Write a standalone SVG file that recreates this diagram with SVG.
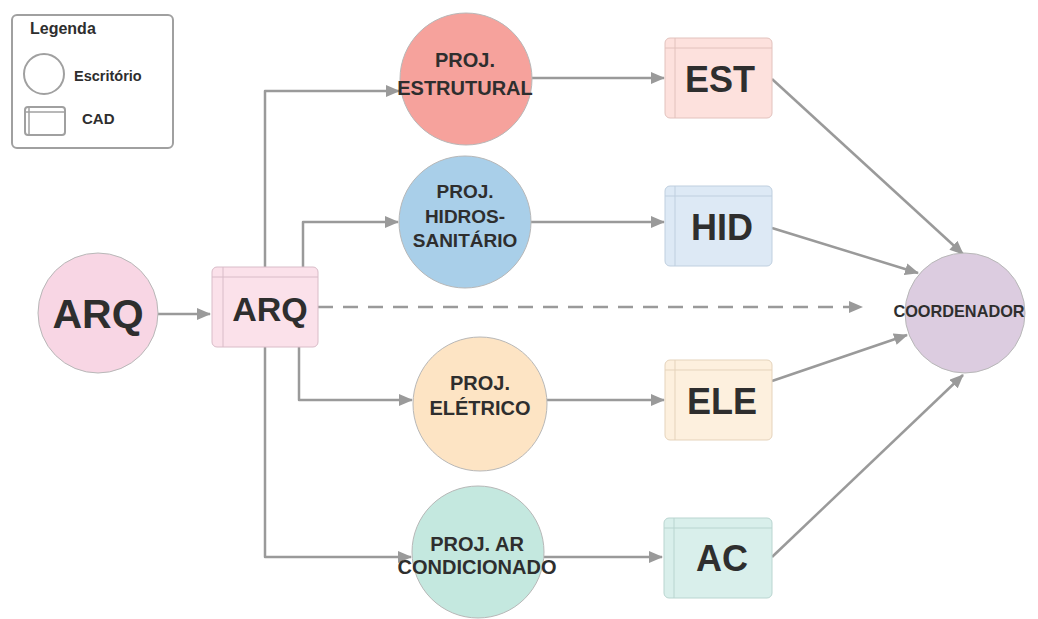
<svg xmlns="http://www.w3.org/2000/svg" width="1038" height="619" viewBox="0 0 1038 619">
<defs>
<marker id="ah" markerWidth="14" markerHeight="12" refX="13" refY="6" orient="auto" markerUnits="userSpaceOnUse">
<path d="M0,0 L14,6 L0,12 z" fill="#9a9a9a"/>
</marker>
<style>
.conn{fill:none;stroke:#9a9a9a;stroke-width:2.5;stroke-linejoin:round}
.t{font-family:"Liberation Sans",Arial,sans-serif;font-weight:bold;fill:#2e2e2e;text-anchor:middle}
.circ{stroke:#b8b8b8;stroke-width:1}
.box{stroke-width:1}
.inner{fill:none;stroke-width:1}
</style>
</defs>
<rect width="1038" height="619" fill="#ffffff"/>

<g id="legend">
<rect x="12" y="15" width="161" height="133" rx="5" fill="#fff" stroke="#a0a0a0" stroke-width="2"/>
<text class="t" x="30" y="34" font-size="16" style="text-anchor:start">Legenda</text>
<circle cx="44" cy="74" r="20" fill="#fff" stroke="#a0a0a0" stroke-width="2"/>
<text class="t" x="74" y="81" font-size="14.5" style="text-anchor:start">Escritório</text>
<rect x="25" y="107" width="40" height="28" rx="3" fill="#fff" stroke="#a0a0a0" stroke-width="2"/>
<line x1="25" y1="112" x2="65" y2="112" stroke="#a0a0a0" stroke-width="1.5"/>
<line x1="29" y1="107" x2="29" y2="135" stroke="#a0a0a0" stroke-width="1.5"/>
<text class="t" x="82" y="124" font-size="15" style="text-anchor:start">CAD</text>
</g>

<g id="connectors">
<path class="conn" d="M158,314 H210" marker-end="url(#ah)"/>
<path class="conn" d="M318,307 H862" stroke-dasharray="15,10" marker-end="url(#ah)"/>
<path class="conn" d="M265,267 V91 H399" marker-end="url(#ah)"/>
<path class="conn" d="M303,267 V222 H398" marker-end="url(#ah)"/>
<path class="conn" d="M299,347 V400 H412" marker-end="url(#ah)"/>
<path class="conn" d="M265,347 V557 H411" marker-end="url(#ah)"/>
<path class="conn" d="M532,78 H664" marker-end="url(#ah)"/>
<path class="conn" d="M531,222 H664" marker-end="url(#ah)"/>
<path class="conn" d="M547,400 H664" marker-end="url(#ah)"/>
<path class="conn" d="M544,557 H662" marker-end="url(#ah)"/>
<path class="conn" d="M772,79 L963,254" marker-end="url(#ah)"/>
<path class="conn" d="M772,228 L918,273" marker-end="url(#ah)"/>
<path class="conn" d="M772,381 L907,335" marker-end="url(#ah)"/>
<path class="conn" d="M772,557 L963,375" marker-end="url(#ah)"/>
</g>

<g id="arq-office">
<circle class="circ" cx="98" cy="313" r="60" fill="#f8d6e4"/>
<text class="t" x="98" y="328" font-size="41">ARQ</text>
</g>

<g id="arq-cad">
<rect class="box" x="212" y="267" width="106" height="80" rx="5" fill="#fbe1ea" stroke="#d9bcc8"/>
<line class="inner" x1="212" y1="277" x2="318" y2="277" stroke="#d9bcc8"/>
<line class="inner" x1="223" y1="267" x2="223" y2="347" stroke="#d9bcc8"/>
<text class="t" x="270" y="321" font-size="34">ARQ</text>
</g>

<g id="proj-estrutural">
<circle class="circ" cx="466" cy="79" r="66" fill="#f6a29c"/>
<text class="t" x="465" y="67" font-size="20">PROJ.</text>
<text class="t" x="465" y="95" font-size="20">ESTRUTURAL</text>
</g>

<g id="est-cad">
<rect class="box" x="665" y="38" width="107" height="80" rx="5" fill="#fde1dd" stroke="#e2c2bd"/>
<line class="inner" x1="665" y1="48" x2="772" y2="48" stroke="#e2c2bd"/>
<line class="inner" x1="675" y1="38" x2="675" y2="118" stroke="#e2c2bd"/>
<text class="t" x="720" y="92" font-size="36">EST</text>
</g>

<g id="proj-hidros">
<circle class="circ" cx="465" cy="222" r="66" fill="#a9cfe9"/>
<text class="t" x="465" y="198" font-size="19">PROJ.</text>
<text class="t" x="465" y="223" font-size="19">HIDROS-</text>
<text class="t" x="465" y="247" font-size="19">SANITÁRIO</text>
</g>

<g id="hid-cad">
<rect class="box" x="665" y="186" width="107" height="80" rx="5" fill="#dde9f5" stroke="#bfcfdf"/>
<line class="inner" x1="665" y1="196" x2="772" y2="196" stroke="#bfcfdf"/>
<line class="inner" x1="675" y1="186" x2="675" y2="266" stroke="#bfcfdf"/>
<text class="t" x="722" y="240" font-size="36">HID</text>
</g>

<g id="proj-eletrico">
<circle class="circ" cx="480" cy="404" r="67" fill="#fde4c4"/>
<text class="t" x="480" y="390" font-size="20">PROJ.</text>
<text class="t" x="480" y="415" font-size="20">ELÉTRICO</text>
</g>

<g id="ele-cad">
<rect class="box" x="665" y="360" width="107" height="80" rx="5" fill="#fdf0de" stroke="#e5d3bb"/>
<line class="inner" x1="665" y1="370" x2="772" y2="370" stroke="#e5d3bb"/>
<line class="inner" x1="675" y1="360" x2="675" y2="440" stroke="#e5d3bb"/>
<text class="t" x="722" y="414" font-size="36">ELE</text>
</g>

<g id="proj-ar">
<circle class="circ" cx="478" cy="552" r="66" fill="#c4e8df"/>
<text class="t" x="477" y="551" font-size="20">PROJ. AR</text>
<text class="t" x="477" y="574" font-size="20">CONDICIONADO</text>
</g>

<g id="ac-cad">
<rect class="box" x="664" y="518" width="108" height="80" rx="5" fill="#d9efeb" stroke="#b9d5d0"/>
<line class="inner" x1="664" y1="528" x2="772" y2="528" stroke="#b9d5d0"/>
<line class="inner" x1="674" y1="518" x2="674" y2="598" stroke="#b9d5d0"/>
<text class="t" x="722" y="571" font-size="36">AC</text>
</g>

<g id="coordenador">
<circle class="circ" cx="965" cy="313" r="60" fill="#dccce0"/>
<text class="t" x="959" y="317" font-size="16.3">COORDENADOR</text>
</g>
</svg>
